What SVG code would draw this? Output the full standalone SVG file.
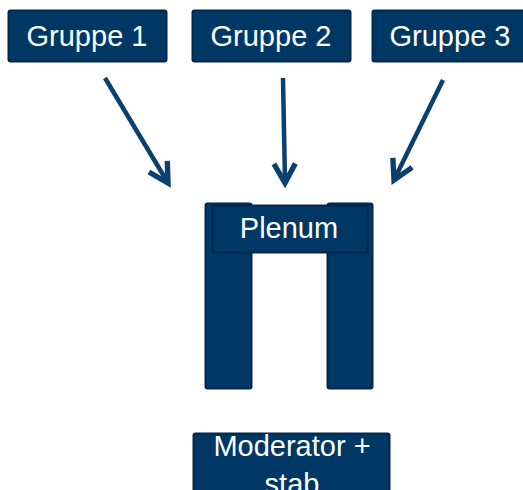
<svg xmlns="http://www.w3.org/2000/svg" width="523" height="490" viewBox="0 0 523 490">
  <defs>
    <style>
      .box { fill: #003865; stroke: #00284c; stroke-width: 2; }
      .lbl { font-family: "Liberation Sans", Arial, sans-serif; font-size: 29px; fill: #ffffff; text-anchor: middle; }
      .arr { stroke: #0a3f6e; stroke-width: 4.5; fill: none; }
    </style>
    <marker id="head" markerUnits="userSpaceOnUse" markerWidth="30" markerHeight="30" viewBox="-22 -14 26 28" refX="0" refY="0" orient="auto">
      <path d="M-18,-10 L0,0 L-18,10" fill="none" stroke="#0a3f6e" stroke-width="5" stroke-linejoin="miter"/>
    </marker>
  </defs>
  <rect width="523" height="490" fill="#ffffff"/>
  <g id="gruppe1">
    <rect class="box" x="8.5" y="10.5" width="158" height="51" rx="2"/>
    <text class="lbl" x="87" y="46">Gruppe 1</text>
  </g>
  <g id="gruppe2">
    <rect class="box" x="192.5" y="10.5" width="158" height="51" rx="2"/>
    <text class="lbl" x="271" y="46">Gruppe 2</text>
  </g>
  <g id="gruppe3">
    <rect class="box" x="372.5" y="10.5" width="158" height="51" rx="2"/>
    <text class="lbl" x="450" y="46">Gruppe 3</text>
  </g>
  <g id="plenum">
    <rect class="box" x="205.5" y="203.5" width="46" height="185" rx="2"/>
    <rect class="box" x="327.5" y="203.5" width="45" height="185" rx="2"/>
    <rect class="box" x="212.5" y="205.5" width="155" height="47"/>
    <text class="lbl" x="289" y="238">Plenum</text>
  </g>
  <g id="moderator">
    <rect class="box" x="193.5" y="433.5" width="196" height="70" rx="2"/>
    <text class="lbl" x="292" y="456">Moderator +</text>
    <text class="lbl" x="292" y="494">stab</text>
  </g>
  <g id="connectors">
    <line class="arr" x1="105" y1="78" x2="168" y2="183" marker-end="url(#head)"/>
    <line class="arr" x1="283" y1="78" x2="285" y2="183" marker-end="url(#head)"/>
    <line class="arr" x1="443" y1="80" x2="394" y2="180" marker-end="url(#head)"/>
  </g>
</svg>
